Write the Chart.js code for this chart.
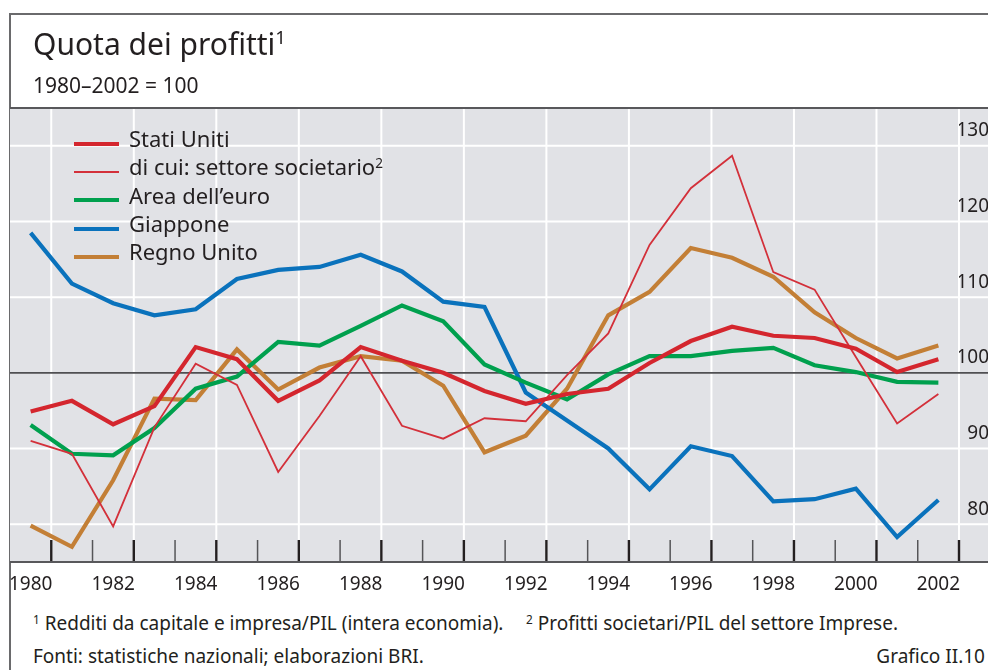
<!DOCTYPE html>
<html>
<head>
<meta charset="utf-8">
<script src="https://cdn.jsdelivr.net/npm/chart.js@4.4.1/dist/chart.umd.min.js"></script>
<style>
  html, body { margin: 0; padding: 0; width: 988px; height: 670px; overflow: hidden; background: #fff; }
  body { position: relative; font-family: "Noto Sans", sans-serif; color: #231f20; }
  #frame { position: absolute; left: 9px; top: 13px; width: 1000px; height: 700px; border-left: 2px solid #6a6a6c; border-top: 2px solid #6a6a6c; }
  #chart { position: absolute; left: 0; top: 0; }
  .txt { position: absolute; white-space: nowrap; line-height: normal; }
  .txt sup { font-size: 0.62em; vertical-align: 0; position: relative; }
  #title { left: 33px; top: 23px; font-size: 30px; }
  #title sup { top: -0.6em; }
  #sub { left: 33px; top: 71px; font-size: 21px; }
  .note { font-size: 19px; }
  .note sup { top: -0.55em; }
  #note1 { left: 33px; top: 610px; }
  #note2 { left: 526px; top: 610px; }
  #src { left: 33px; top: 643px; }
  #num { right: 3px; top: 643px; }
  .swatch { position: absolute; left: 74px; width: 45px; }
  .ltxt { position: absolute; left: 129px; font-size: 22px; white-space: nowrap; line-height: normal; }
  .ltxt sup { font-size: 0.62em; position: relative; top: -0.55em; vertical-align: 0; }
</style>
</head>
<body>
<div id="frame"></div>
<canvas id="chart" width="1000" height="600"></canvas>
<div class="txt" id="title">Quota dei profitti<sup>1</sup></div>
<div class="txt" id="sub">1980–2002 = 100</div>
<div id="legend"></div>
<div class="txt note" id="note1"><sup>1</sup> Redditi da capitale e impresa/PIL (intera economia).</div>
<div class="txt note" id="note2"><sup>2</sup> Profitti societari/PIL del settore Imprese.</div>
<div class="txt note" id="src">Fonti: statistiche nazionali; elaborazioni BRI.</div>
<div class="txt note" id="num">Grafico II.10</div>
<script>
// dati (1980–2002 = 100)
const years = ['1980','1981','1982','1983','1984','1985','1986','1987','1988','1989','1990',
  '1991','1992','1993','1994','1995','1996','1997','1998','1999','2000','2001','2002'];
const statiUniti = [94.9, 96.3, 93.2, 95.6, 103.4, 101.8, 96.3, 99.0, 103.4, 101.6, 100.0,
  97.6, 95.9, 97.2, 97.9, 101.3, 104.2, 106.1, 104.9, 104.6, 103.2, 100.1, 101.8];
const settoreSocietario = [91.0, 89.3, 79.7, 92.8, 101.2, 98.4, 86.9, 94.3, 102.2, 93.0, 91.3,
  94.0, 93.6, 99.7, 105.2, 116.9, 124.4, 128.7, 113.3, 111.0, 102.1, 93.3, 97.2];
const areaEuro = [93.1, 89.3, 89.1, 92.7, 97.9, 99.5, 104.1, 103.6, 106.2, 108.9, 106.8,
  101.1, 98.7, 96.5, 99.8, 102.2, 102.2, 102.9, 103.3, 101.0, 100.1, 98.8, 98.7];
const giappone = [118.5, 111.8, 109.2, 107.6, 108.4, 112.4, 113.6, 114.0, 115.6, 113.4, 109.4,
  108.7, 97.4, 93.7, 90.0, 84.6, 90.3, 89.0, 83.0, 83.3, 84.7, 78.3, 83.2];
const regnoUnito = [79.8, 77.0, 85.8, 96.6, 96.4, 103.1, 97.8, 100.7, 102.2, 101.6, 98.3,
  89.5, 91.7, 97.9, 107.6, 110.7, 116.5, 115.2, 112.7, 108.0, 104.6, 101.9, 103.6];
const yTicks = [80, 90, 100, 110, 120, 130];

const seriesNames = ['Stati Uniti', 'di cui: settore societario', 'Area dell\u2019euro', 'Giappone', 'Regno Unito'];
const seriesNotes = ['', '2', '', '', ''];
const seriesColors = ['#d4262e', '#d3303a', '#00a04e', '#0a72bc', '#c37f36'];
const seriesWidths = [4.2, 1.8, 4.2, 4.2, 4.2];
const seriesData = [statiUniti, settoreSocietario, areaEuro, giappone, regnoUnito];

// legenda
const legend = document.getElementById('legend');
seriesNames.forEach((name, i) => {
  const lineY = 144 + i * 28.2;
  const sw = document.createElement('div');
  sw.className = 'swatch';
  sw.style.top = (lineY - seriesWidths[i] / 2) + 'px';
  sw.style.height = seriesWidths[i] + 'px';
  sw.style.background = seriesColors[i];
  legend.appendChild(sw);
  const t = document.createElement('div');
  t.className = 'ltxt';
  t.style.top = (lineY + 2.7 - 23.5) + 'px';
  t.innerHTML = name + (seriesNotes[i] ? '<sup>' + seriesNotes[i] + '</sup>' : '');
  legend.appendChild(t);
});

// sfondo, griglia, tacche (disegnati prima delle scale)
const bisGrid = {
  id: 'bisGrid',
  beforeDraw(chart) {
    const { ctx, chartArea: a, scales: { x, y } } = chart;
    const W = chart.width;
    ctx.save();
    ctx.fillStyle = '#e1e2e6';
    ctx.fillRect(a.left, a.top, W - a.left, a.bottom - a.top);

    ctx.strokeStyle = '#ffffff';
    ctx.lineWidth = 2;
    yTicks.forEach(v => {
      if (v === 100) return;
      const py = y.getPixelForValue(v);
      ctx.beginPath(); ctx.moveTo(a.left, py); ctx.lineTo(W, py); ctx.stroke();
    });
    for (let k = 1; k <= years.length; k += 2) {
      const px = x.getPixelForValue(k - 0.5);
      ctx.beginPath(); ctx.moveTo(px, a.top); ctx.lineTo(px, a.bottom); ctx.stroke();
    }

    const p100 = y.getPixelForValue(100);
    ctx.strokeStyle = '#4f4f52';
    ctx.lineWidth = 1.6;
    ctx.beginPath(); ctx.moveTo(a.left, p100); ctx.lineTo(W, p100); ctx.stroke();

    for (let k = 1; k <= years.length; k++) {
      const px = x.getPixelForValue(k - 0.5);
      const major = k % 2 === 1;
      ctx.strokeStyle = major ? '#231f20' : '#555558';
      ctx.lineWidth = major ? 2.4 : 1.5;
      ctx.beginPath(); ctx.moveTo(px, a.bottom); ctx.lineTo(px, a.bottom - 22); ctx.stroke();
    }

    ctx.strokeStyle = '#58585b';
    ctx.lineWidth = 2;
    ctx.beginPath(); ctx.moveTo(a.left, a.top); ctx.lineTo(W, a.top); ctx.stroke();
    ctx.beginPath(); ctx.moveTo(a.left, a.bottom); ctx.lineTo(W, a.bottom); ctx.stroke();
    ctx.restore();
  }
};

Chart.defaults.font.family = '"Noto Sans", sans-serif';
Chart.defaults.color = '#231f20';

new Chart(document.getElementById('chart'), {
  type: 'line',
  data: {
    labels: years,
    datasets: seriesNames.map((name, i) => ({
      label: name,
      data: seriesData[i],
      borderColor: seriesColors[i],
      borderWidth: seriesWidths[i],
      pointRadius: 0,
      fill: false,
      tension: 0
    }))
  },
  options: {
    responsive: false,
    animation: false,
    devicePixelRatio: 1,
    layout: { padding: { left: 10, top: 108, right: 11, bottom: 0 } },
    plugins: { legend: { display: false }, tooltip: { enabled: false } },
    scales: {
      x: {
        type: 'category',
        offset: true,
        grid: { display: false },
        border: { display: false },
        ticks: {
          autoSkip: false, maxRotation: 0, minRotation: 0, padding: 3,
          font: { size: 19 },
          callback: (v, i) => i % 2 === 0 ? years[i] : ''
        },
        afterFit: s => { s.height = 38; }
      },
      y: {
        position: 'right',
        min: 75,
        max: 135,
        grid: { display: false },
        border: { display: false },
        afterBuildTicks: s => { s.ticks = yTicks.map(v => ({ value: v })); },
        ticks: { crossAlign: 'far', labelOffset: -15, padding: 2, font: { size: 19 } },
        afterFit: s => { s.width = 30; }
      }
    }
  },
  plugins: [bisGrid]
});
</script>
</body>
</html>
